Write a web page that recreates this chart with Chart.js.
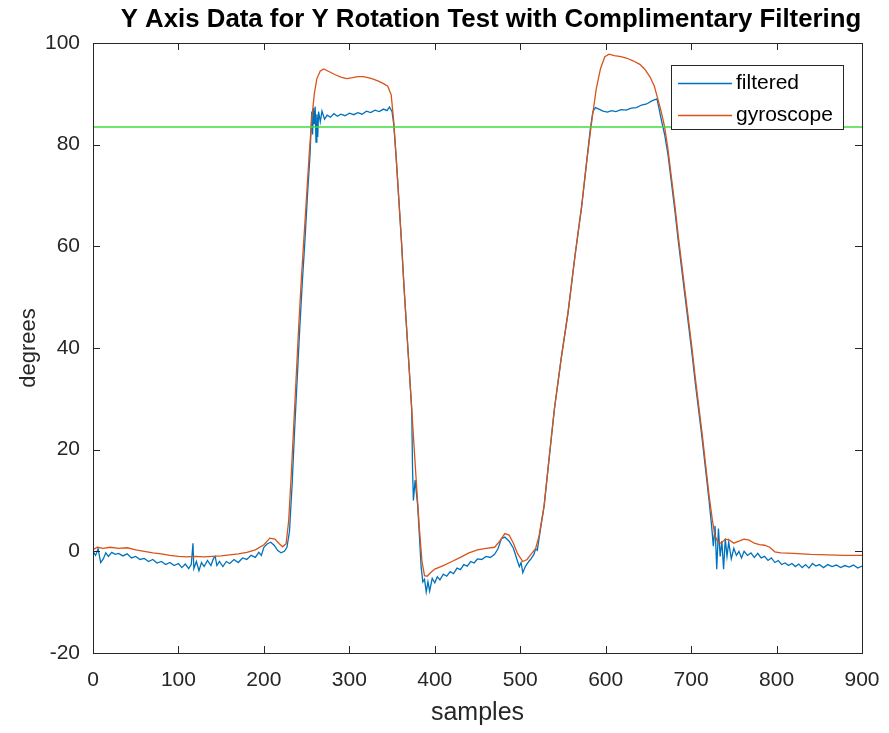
<!DOCTYPE html>
<html>
<head>
<meta charset="utf-8">
<script src="https://cdn.jsdelivr.net/npm/chart.js@4.4.1/dist/chart.umd.min.js"></script>
<style>
  html, body { margin: 0; padding: 0; background: #ffffff; }
  #wrap { width: 889px; height: 733px; }
</style>
</head>
<body>
<div id="wrap"><canvas id="c" width="889" height="733"></canvas></div>
<script>
// ---- data ----
const titleText = "Y Axis Data for Y Rotation Test with Complimentary Filtering";
const xAxisLabel = "samples";
const yAxisLabel = "degrees";
const xTicks = [0, 100, 200, 300, 400, 500, 600, 700, 800, 900];
const yTicks = [-20, 0, 20, 40, 60, 80, 100];

const gyroX = [0,5,12,20,30,40,50,60,70,80,90,100,110,120,130,140,150,160,170,180,190,200,207,213,218,222,226,229,232,235,238,241,244,247,250,253,256,259,262,266,270,276,283,290,297,304,310,316,322,328,334,340,345,349,352,355,358,361,364,367,370,373,376,379,382,385,388,391,395,400,410,420,430,440,450,460,470,476,482,487,492,497,503,508,513,518,522,528,533,540,548,556,564,572,578,584,589,594,599,604,610,618,625,632,640,646,652,657,661,665,669,673,677,681,685,689,693,697,701,705,709,713,717,721,725,728,731,735,740,745,750,756,762,768,774,780,786,792,798,805,820,840,860,880,900];
const gyroY = [0.3,0.8,0.6,0.8,0.6,0.7,0.3,0,-0.3,-0.5,-0.8,-1.0,-1.1,-1.0,-1.1,-1.0,-0.9,-0.7,-0.5,-0.2,0.3,1.3,2.6,2.4,1.5,0.9,1.5,6,15,25,35,45,54,62,70,78,85,90,93,94.5,94.9,94.4,93.8,93.3,93.0,93.2,93.4,93.4,93.2,92.9,92.5,92.0,91.5,89.8,84.5,77,69,61,52,44,36,28,20,12,4.5,-2,-4.8,-4.9,-4.2,-3.5,-2.8,-2.0,-1.2,-0.3,0.3,0.6,0.8,2.0,3.5,3.2,1.6,-0.5,-2.0,-1.6,-0.5,0.5,3,9,17,28,38,47,58,68,77,85,91,95,97.3,97.8,97.5,97.3,97.0,96.5,95.8,94.8,93.3,91.5,89,86.5,83.5,79,73.5,68,62,56.5,51,45.5,40,34,28.5,23,17,11,6,3,2,1.6,2.4,2.2,1.6,2.0,2.4,2.2,1.6,1.3,1.2,0.8,-0.1,-0.3,-0.4,-0.6,-0.7,-0.8,-0.8];

const filtX = [
  0,3,6,9,12,15,18,22,26,30,35,40,45,50,55,60,65,70,75,80,85,90,95,100,104,108,112,115,117,118,121,124,127,130,134,138,141,143,145,148,152,156,160,165,170,175,180,185,190,194,197,200,204,208,212,216,220,224,227,
  230,233,236,239,242,245,248,251,254,256,257,258,259,260,261,262,263,264,266,268,271,274,278,282,286,290,295,300,305,310,315,320,325,330,335,340,344,347,350,
  352,355,358,361,364,367,370,373,374,375,377,380,382,384,386,388,390,392,394,397,400,403,406,410,414,418,422,426,430,434,438,442,446,450,455,460,465,470,
  474,478,482,487,492,496,499,501,503,506,510,513,516,518,520,522,528,533,540,548,556,564,572,578,582,585,588,592,597,602,607,612,618,624,630,636,642,648,654,660,662,
  665,669,673,677,681,685,689,693,697,701,705,709,713,717,721,724,726,728,730,732,734,736,738,740,742,744,747,750,753,756,759,762,766,770,774,778,782,786,790,794,798,802,806,810,814,818,822,826,830,834,838,842,846,850,855,860,865,870,875,880,885,890,895,900];
const filtY = [
  0.0,-0.8,0.5,-2.2,-1.5,-0.3,-1.0,-0.2,-0.6,-0.4,-0.9,-0.5,-1.3,-1.0,-1.6,-1.4,-2.0,-1.6,-2.3,-2.0,-2.6,-2.2,-2.8,-2.4,-3.2,-2.5,-3.4,-2.6,1.6,-3.4,-2.0,-3.8,-2.2,-3.0,-1.8,-2.8,-1.4,-1.0,-2.8,-2.0,-3.0,-2.0,-2.4,-1.6,-2.2,-1.3,-1.6,-0.8,-1.2,-0.2,-0.8,0.8,1.5,1.8,1.2,0.2,-0.3,0.0,0.8,
  4,13,24,34,44,53,61,70,78,86.5,82,87.2,84,87.5,80.5,86,81.5,86.5,84.5,86.6,85,85.8,85.4,86.1,85.6,86.0,85.7,86.2,85.9,86.3,86.0,86.6,86.3,86.8,86.5,87.0,86.7,87.4,86.5,
  84,77,69,61,52,44,36,28,16,10,14,9,3,-3,-6,-5.5,-8.0,-6.0,-7.8,-5.3,-6.2,-5.0,-5.6,-4.5,-4.9,-4.0,-4.4,-3.3,-3.6,-2.6,-2.9,-2.0,-2.3,-1.5,-1.6,-1.0,-1.2,-0.6,
  0.5,2.5,2.8,2.0,0.6,-1.5,-3,-2.2,-4.2,-3.0,-2.0,-1.4,-0.6,0.5,0.2,2.5,9,17,28,38,47,58,68,77,83,86.5,87.3,87.0,86.6,86.4,86.7,86.5,86.9,86.8,87.2,87.3,87.8,88.0,88.6,89.0,87.5,
  85,82,78,72.5,67,61,55.5,50,44.5,39,33,27.5,22,16,10,5,1,5,-3.5,4.5,-1,2,-3.5,2.5,-1.0,1.8,-1.5,0.6,-0.8,0.0,-1.3,0.0,-0.8,-0.3,-1.2,-0.4,-1.3,-1.0,-1.8,-1.3,-2.2,-1.8,-2.6,-2.3,-2.8,-2.4,-3.0,-2.5,-3.2,-2.6,-3.3,-2.4,-2.9,-2.6,-3.2,-2.6,-3.0,-2.7,-3.2,-2.8,-3.1,-2.7,-3.3,-2.9];

const thresholdX = [0, 900];
const thresholdY = [83.5, 83.5];

const seriesNames = ["filtered", "gyroscope"];
const seriesColors = ["#0072BD", "#D95319"];
const thresholdColor = "#3fdc3f";

// ---- helpers ----
function pts(xs, ys) { return xs.map((x, i) => ({ x: x, y: ys[i] })); }
const AXIS = "#262626";
const FONT = "'Liberation Sans', Arial, Helvetica, sans-serif";
const TARGET = { left: 93, top: 43, right: 862, bottom: 653 };

const boxPlugin = {
  id: 'matlabBox',
  beforeDraw(chart) {
    const ctx = chart.ctx;
    ctx.save();
    ctx.fillStyle = '#ffffff';
    ctx.fillRect(0, 0, chart.width, chart.height);
    ctx.restore();
  },
  afterDraw(chart) {
    const ctx = chart.ctx;
    const a = chart.chartArea;
    const xs = chart.scales.x, ys = chart.scales.y;
    ctx.save();
    ctx.strokeStyle = AXIS;
    ctx.lineWidth = 1;
    const tl = 7;
    ctx.beginPath();
    xTicks.forEach(v => {
      const px = Math.round(xs.getPixelForValue(v)) + 0.5;
      ctx.moveTo(px, a.bottom); ctx.lineTo(px, a.bottom - tl);
      ctx.moveTo(px, a.top); ctx.lineTo(px, a.top + tl);
    });
    yTicks.forEach(v => {
      const py = Math.round(ys.getPixelForValue(v)) + 0.5;
      ctx.moveTo(a.left, py); ctx.lineTo(a.left + tl, py);
      ctx.moveTo(a.right, py); ctx.lineTo(a.right - tl, py);
    });
    ctx.stroke();
    ctx.strokeRect(Math.round(a.left) + 0.5, Math.round(a.top) + 0.5,
                   Math.round(a.right - a.left), Math.round(a.bottom - a.top));

    // legend box (inside axes, top right)
    const lx = 671, ly = 65, lw = 172, lh = 64;
    ctx.fillStyle = '#ffffff';
    ctx.fillRect(lx, ly, lw, lh);
    ctx.strokeStyle = AXIS;
    ctx.strokeRect(lx + 0.5, ly + 0.5, lw, lh);
    ctx.font = "21px " + FONT;
    ctx.textBaseline = 'middle';
    ctx.textAlign = 'left';
    const rows = [83, 115];
    seriesNames.forEach((name, i) => {
      ctx.strokeStyle = seriesColors[i];
      ctx.lineWidth = 1.4;
      ctx.beginPath();
      ctx.moveTo(678, rows[i] + 0.5); ctx.lineTo(732, rows[i] + 0.5);
      ctx.stroke();
      ctx.fillStyle = '#000000';
      ctx.fillText(name, 736, rows[i]);
    });

    // title
    ctx.fillStyle = '#000000';
    ctx.font = "bold 25.8px " + FONT;
    ctx.textAlign = 'center';
    ctx.textBaseline = 'alphabetic';
    ctx.fillText(titleText, 491, 27);
    ctx.restore();
  }
};

const chart = new Chart(document.getElementById('c'), {
  type: 'line',
  data: {
    datasets: [
      { label: 'threshold', data: pts(thresholdX, thresholdY), borderColor: thresholdColor,
        borderWidth: 1.5, pointRadius: 0, tension: 0, order: 0 },
      { label: seriesNames[1], data: pts(gyroX, gyroY), borderColor: seriesColors[1],
        borderWidth: 1.3, pointRadius: 0, tension: 0, order: 1 },
      { label: seriesNames[0], data: pts(filtX, filtY), borderColor: seriesColors[0],
        borderWidth: 1.3, pointRadius: 0, tension: 0, order: 2 }
    ]
  },
  options: {
    responsive: false,
    animation: false,
    devicePixelRatio: 1,
    layout: { padding: { top: 43, right: 27, bottom: 0, left: 0 } },
    plugins: { legend: { display: false }, title: { display: false }, tooltip: { enabled: false } },
    scales: {
      x: {
        type: 'linear', min: 0, max: 900,
        afterFit(s) { s.height = 80; s.paddingLeft = 0; s.paddingRight = 0; },
        afterBuildTicks(s) { s.ticks = xTicks.map(v => ({ value: v })); },
        grid: { display: false, drawTicks: false, tickLength: 0 },
        border: { display: false },
        ticks: { color: AXIS, font: { family: FONT, size: 21 }, padding: 15, maxRotation: 0, autoSkip: false },
        title: { display: true, text: xAxisLabel, color: AXIS, font: { family: FONT, size: 25 }, padding: { top: 0, bottom: 5 } }
      },
      y: {
        type: 'linear', min: -20, max: 100,
        afterFit(s) { s.width = 93; s.paddingTop = 0; s.paddingBottom = 0; },
        afterBuildTicks(s) { s.ticks = yTicks.map(v => ({ value: v })); },
        grid: { display: false, drawTicks: false, tickLength: 0 },
        border: { display: false },
        ticks: { color: AXIS, font: { family: FONT, size: 21 }, padding: 13, autoSkip: false },
        title: { display: true, text: yAxisLabel, color: AXIS, font: { family: FONT, size: 22 }, padding: { top: 16, bottom: 0 } }
      }
    }
  },
  plugins: [boxPlugin]
});

// make the plot box land exactly where the reference has it
(function fixArea() {
  const a = chart.chartArea;
  const p = chart.options.layout.padding;
  const dr = a.right - TARGET.right;
  const db = a.bottom - TARGET.bottom;
  const dt = TARGET.top - a.top;
  if (Math.abs(dr) > 0.5 || Math.abs(db) > 0.5 || Math.abs(dt) > 0.5) {
    p.right = p.right + dr;
    p.bottom = Math.max(0, p.bottom + db);
    p.top = p.top + dt;
    chart.update();
  }
})();
</script>
</body>
</html>
